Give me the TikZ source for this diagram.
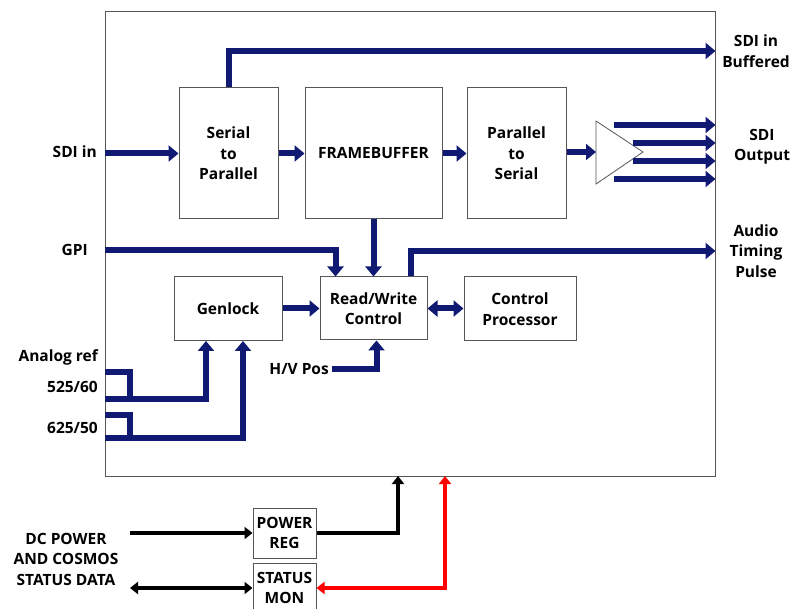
\documentclass[tikz,border=0pt]{standalone}
\usepackage{fontspec}
\setmainfont{Open Sans}
\usetikzlibrary{positioning,arrows.meta}
\definecolor{Bus}{HTML}{111A72}
\definecolor{Edge}{HTML}{555555}
\definecolor{Alarm}{HTML}{FF0000}

\begin{document}
\begin{tikzpicture}[
  x=1pt, y=-1pt,
  font=\bfseries\fontsize{15.5}{20.5}\selectfont,
  blk/.style={draw=Edge, line width=1pt, fill=white, inner sep=0pt, align=center},
  lbl/.style={inner sep=0pt, align=center},
  bus/.style={line width=6pt, color=Bus, -{Triangle[length=10pt,width=16pt]}},
  link/.style={line width=6pt, color=Bus, {Triangle[length=10pt,width=16pt]}-{Triangle[length=10pt,width=16pt]}},
  pwr/.style={line width=4pt, color=black, -{Triangle[length=8pt,width=12pt]}},
  pwrlink/.style={line width=4pt, color=black, {Triangle[length=8pt,width=12pt]}-{Triangle[length=8pt,width=12pt]}},
  stat/.style={line width=4pt, color=Alarm, {Triangle[length=8pt,width=12pt]}-{Triangle[length=8pt,width=12pt]}}
]
  \useasboundingbox (0,0) rectangle (795,609);
  \node[draw=Edge, line width=1pt, minimum width=610pt, minimum height=464pt] (frame) at (410,244) {};

  \node[blk, minimum width=99pt, minimum height=131pt] (s2p) at (228.5,153.5) {Serial\\to\\Parallel};
  \node[blk, minimum width=137pt, minimum height=131pt, right=26pt of s2p] (fb) {FRAMEBUFFER};
  \node[blk, minimum width=99pt, minimum height=131pt, right=24pt of fb] (p2s) {Parallel\\to\\Serial};
  \draw[Edge, line width=0.8pt, fill=white] (596,121) -- (643,152) -- (596,184) -- cycle;
  \coordinate (triin) at (596,152);

  \node[blk, minimum width=107pt, minimum height=63pt] (rw) at (373.5,308.5) {Read/Write\\Control};
  \node[blk, minimum width=108pt, minimum height=64pt] (gen) at (228,308.5) {Genlock};
  \node[blk, minimum width=112pt, minimum height=64pt] (cpu) at (520,309) {Control\\Processor};
  \node[blk, minimum width=63pt, minimum height=50pt] (preg) at (284.5,533) {POWER\\REG};
  \node[blk, minimum width=63pt, minimum height=50pt] (smon) at (284.5,588) {STATUS\\MON};

  \node[lbl, anchor=east] (sdiin) at (97,152) {SDI in};
  \node[lbl, anchor=east] (gpi) at (88,250) {GPI};
  \node[lbl] (buf) at (756,51) {SDI in\\Buffered};
  \node[lbl] (sdiout) at (762,147) {SDI\\Output};
  \node[lbl] (audio) at (756,251) {Audio\\Timing\\Pulse};
  \node[lbl, anchor=east] (aref) at (98,357) {Analog ref};
  \node[lbl, anchor=east] (r525) at (98,387) {525/60};
  \node[lbl, anchor=east] (r625) at (98,428) {625/50};
  \node[lbl, anchor=east] (hv) at (329,369) {H/V Pos};
  \node[lbl] (dc) at (66,559) {DC POWER\\AND COSMOS\\STATUS DATA};

  \draw[bus] (frame.west |- s2p) -- (s2p.west);
  \draw[bus] (s2p.north) |- (frame.east |- buf);
  \draw[bus] (s2p) -- (fb);
  \draw[bus] (fb) -- (p2s);
  \draw[bus] (p2s.east |- triin) -- (triin);
  \foreach \yy/\xx in {125/614,143/633,161/633,179/614}
    \draw[bus] (\xx,\yy) -- (frame.east |- 0,\yy);

  \draw[bus] (rw.north |- fb.south) -- (rw.north);
  \draw[bus] (frame.west |- gpi) -| ([xshift=-38pt]rw.north);
  \draw[bus] ([xshift=37pt]rw.north) |- (frame.east |- audio);
  \draw[bus] (gen.east) -- (gen.east -| rw.west);
  \draw[link] (rw.east) -- (rw.east -| cpu.west);
  \draw[bus] ([xshift=3pt]hv.east) -| ([xshift=3pt]rw.south);

  \coordinate (a1) at (105,372);
  \coordinate (a2) at (105,399);
  \coordinate (b1) at (105,415);
  \coordinate (b2) at (105,438);
  \draw[Bus, line width=6pt] (a1) -| (a2 -| 130,0);
  \draw[bus] (a2) -| ([xshift=-22pt]gen.south);
  \draw[Bus, line width=6pt] (b1) -| (b2 -| 130,0);
  \draw[bus] (b2) -| ([xshift=15pt]gen.south);

  \coordinate (dcin) at (130,533);
  \coordinate (stin) at (130,588);
  \coordinate (pin) at (398,476);
  \coordinate (sin) at (445,476);
  \draw[pwr] (dcin) -- (preg.west);
  \draw[pwrlink] (stin) -- (smon.west);
  \draw[pwr] (preg.east) -| (pin);
  \draw[stat] (sin) |- (smon.east);
\end{tikzpicture}
\end{document}
